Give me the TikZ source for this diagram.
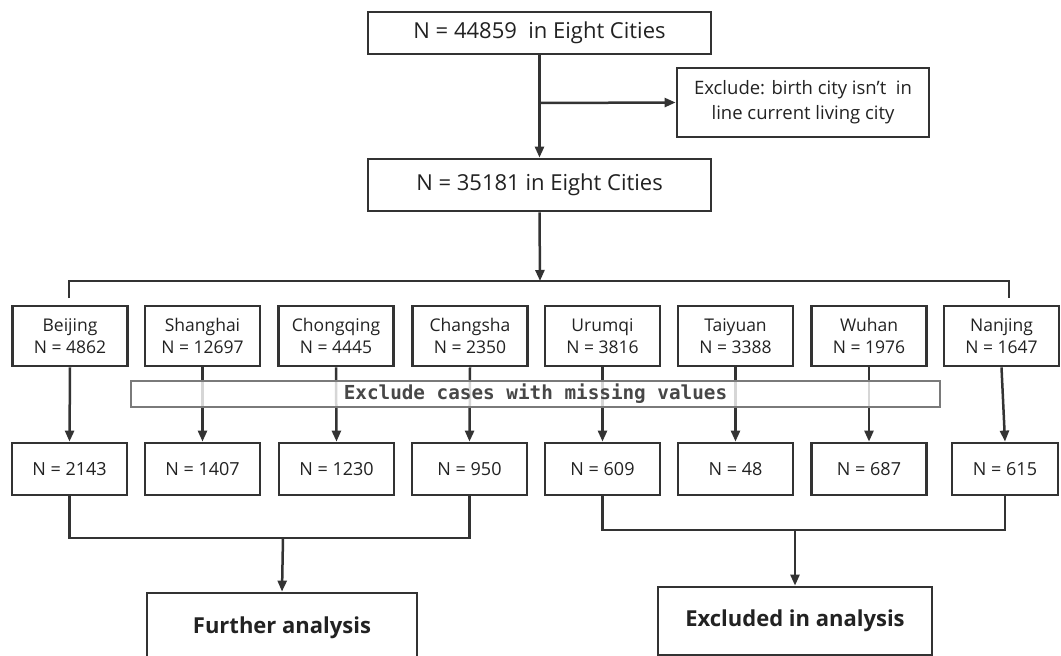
\documentclass[tikz,border=0pt]{standalone}
\usepackage{fontspec}
\setmainfont{Open Sans}
\newfontfamily\boxmono{DejaVu Sans Mono}
\usetikzlibrary{arrows.meta}
\definecolor{ink}{HTML}{333333}
\definecolor{txt}{HTML}{222222}
\definecolor{greyline}{HTML}{7a7a7a}
\begin{document}
\begin{tikzpicture}[x=1pt,y=-1pt,
  box/.style={draw=ink,line width=2.8pt,fill=white,inner sep=0pt,align=center,text=txt},
  city/.style={box,minimum width=115pt,minimum height=60pt,font=\fontsize{17.5}{21.5}\selectfont},
  cnt/.style={box,minimum width=115pt,minimum height=52pt,font=\fontsize{18}{21}\selectfont},
  conn/.style={draw=ink,line width=2.5pt},
  arr/.style={conn,-{Triangle[length=11pt,width=9pt]}}]
\useasboundingbox (0,0) rectangle (1061,656);
\clip (0,0) rectangle (1061,656);
\fill[white] (0,0) rectangle (1061,656);

% top part
\node[box,minimum width=343pt,minimum height=42pt,font=\fontsize{22}{26}\selectfont] (t1) at (539.5,33) {N = 44859 \ in Eight Cities};
\node[box,minimum width=252pt,minimum height=69pt,font=\fontsize{18.5}{25}\selectfont] (ex) at (803,102.5) {Exclude: birth city isn't \ in\\line current living city};
\node[box,minimum width=343pt,minimum height=52pt,font=\fontsize{22}{26}\selectfont] (t2) at (539.5,185) {N = 35181 in Eight Cities};

\coordinate (br1) at (540,103);
\draw[arr] (t1.south) -- (t2.north);
\draw[arr] (br1) -- (ex.west);

% split
\coordinate (split) at (540,281);
\coordinate (hl) at (69,281);
\coordinate (hr) at (1009,281);
\coordinate (tl) at (69,298);
\coordinate (tr) at (1009,298);
\draw[conn] (tl) -- (hl) -- (hr) -- (tr);
\draw[arr] (t2.south) -- (split);

% cities
\node[city] (c1) at (70,336) {Beijing\\N = 4862};
\node[city] (c2) at (202.5,336) {Shanghai\\N = 12697};
\node[city] (c3) at (336,336) {Chongqing\\N = 4445};
\node[city] (c4) at (470,336) {Changsha\\N = 2350};
\node[city] (c5) at (602.5,336) {Urumqi\\N = 3816};
\node[city] (c6) at (735.5,336) {Taiyuan\\N = 3388};
\node[city] (c7) at (869,336) {Wuhan\\N = 1976};
\node[city] (c8) at (1001.5,336) {Nanjing\\N = 1647};

% counts
\node[cnt] (n1) at (69.5,469) {N = 2143};
\node[cnt] (n2) at (202.5,469) {N = 1407};
\node[cnt] (n3) at (336.5,469) {N = 1230};
\node[cnt] (n4) at (469.5,469) {N = 950};
\node[cnt] (n5) at (602.5,469) {N = 609};
\node[cnt] (n6) at (735.5,469) {N = 48};
\node[cnt] (n7) at (869,469) {N = 687};
\node[cnt,minimum width=106pt] (n8) at (1005,469) {N = 615};

\foreach \i in {1,...,8} {\draw[arr] (c\i.south) -- (n\i.north);}

% missing values bar
\node[draw=greyline,line width=2.4pt,fill=white,fill opacity=0.8,text opacity=1,
  minimum width=809pt,minimum height=26pt,inner sep=0pt,
  font=\boxmono\bfseries\fontsize{19.3}{20}\selectfont,text=black!72] (mv) at (535.5,394) {Exclude cases with missing values};

% bottom
\node[box,minimum width=270pt,minimum height=70pt,font=\bfseries\fontsize{22}{26}\selectfont] (fa) at (282,628) {Further analysis};
\node[box,minimum width=274pt,minimum height=68pt,font=\bfseries\fontsize{22}{26}\selectfont] (xa) at (795,621) {Excluded in analysis};

\coordinate (m1) at (283,538);
\coordinate (m2) at (795,530);
\draw[conn] (n1.south) |- (m1) -| (n4.south);
\draw[conn] (n5.south) |- (m2) -| (n8.south);
\draw[arr] (m1) -- (fa.north);
\draw[arr] (m2) -- (xa.north);
\end{tikzpicture}
\end{document}
